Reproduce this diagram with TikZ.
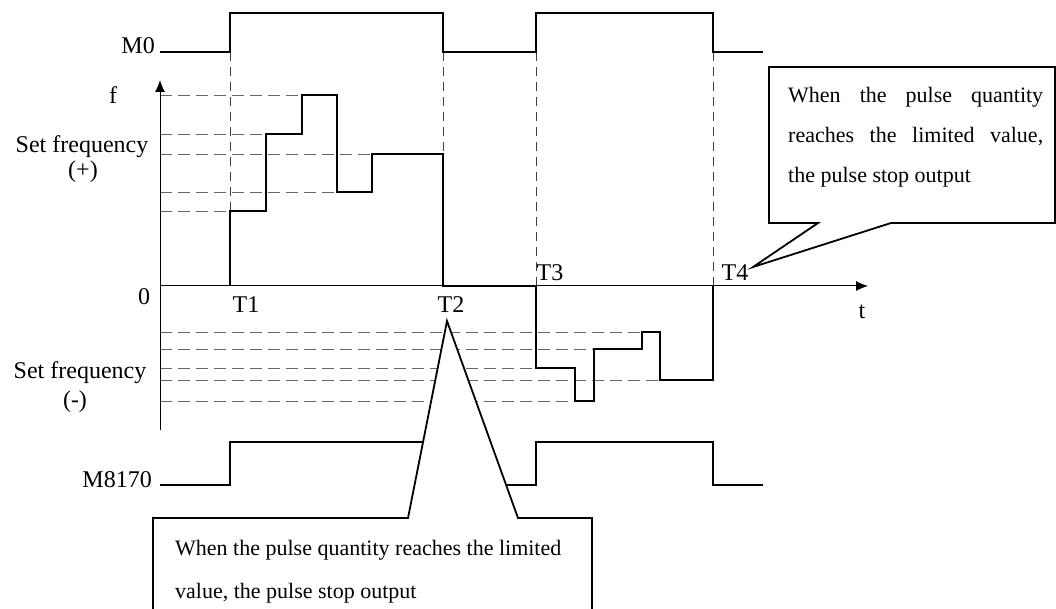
\documentclass[tikz,border=0pt]{standalone}
\usepackage{fontspec}
\setmainfont{Liberation Serif}
\usetikzlibrary{arrows.meta}
\tikzset{
  lab/.style={font=\fontsize{24}{28}\selectfont, inner sep=0pt},
  ctext/.style={font=\fontsize{22}{26}\selectfont, inner sep=0pt, anchor=base west},
  wave/.style={line width=1.8pt, line join=miter},
  axisline/.style={line width=1pt},
  hdash/.style={line width=0.8pt, draw=black!60, dash pattern=on 12pt off 6pt},
  vdash/.style={line width=0.7pt, draw=black!75, dash pattern=on 9pt off 6pt},
  callout/.style={line width=1.8pt, line join=miter},
}
\begin{document}
\begin{tikzpicture}[x=1pt,y=-1pt]
\useasboundingbox (0,0) rectangle (1056,609);
\fill[white] (0,0) rectangle (1056,609);

% dashed guide lines
\draw[hdash] (160,95)--(302,95);
\draw[hdash] (160,134)--(266,134);
\draw[hdash] (160,154)--(372,154);
\draw[hdash] (160,192)--(337,192);
\draw[hdash] (160,211)--(230,211);
\draw[hdash] (160,332)--(642,332);
\draw[hdash] (160,349)--(594,349);
\draw[hdash] (160,368)--(536,368);
\draw[hdash] (160,380)--(660,380);
\draw[hdash] (160,401)--(575,401);
\draw[vdash] (230,52)--(230,211);
\draw[vdash] (443,52)--(443,154);
\draw[vdash] (536,52)--(536,286);
\draw[vdash] (713,52)--(713,286);

% axes
\coordinate (o) at (160,286);
\coordinate (ytop) at (160,80);
\coordinate (ybot) at (160,430);
\coordinate (xend) at (868,286);
\draw[axisline,-{Latex[length=12pt,width=10pt]}] (ybot) -- (ytop);
\draw[axisline,-{Latex[length=12pt,width=10pt]}] (o) -- (xend);

% M0
\draw[wave] (160,52) -- (230,52) -- (230,13) -- (443,13) -- (443,52) -- (536,52) -- (536,13) -- (713,13) -- (713,52) -- (763,52);
% frequency
\draw[wave] (230,286) -- (230,211) -- (266,211) -- (266,134) -- (302,134) -- (302,95) -- (337,95) -- (337,192) -- (372,192) -- (372,154) -- (443,154) -- (443,286) -- (536,286) -- (536,368) -- (575,368) -- (575,401) -- (594,401) -- (594,349) -- (642,349) -- (642,332) -- (660,332) -- (660,380) -- (713,380) -- (713,286);
% M8170
\draw[wave] (160,485) -- (230,485) -- (230,442) -- (443,442) -- (443,485) -- (536,485) -- (536,442) -- (713,442) -- (713,485) -- (763,485);

% labels
\node[lab, anchor=base east] (m0) at (155,54) {M0};
\node[lab, anchor=base] (f) at (113,104) {f};
\node[lab, anchor=base] (sfp) at (82,153) {Set frequency};
\node[lab, anchor=base] (plus) at (83,178) {(+)};
\node[lab, anchor=base] (zero) at (144,304) {0};
\node[lab, anchor=base] (t1) at (246,312) {T1};
\node[lab, anchor=base] (t2) at (451,312) {T2};
\node[lab, anchor=base] (t3) at (550,280) {T3};
\node[lab, anchor=base] (t4) at (735,280) {T4};
\node[lab, anchor=base] (t) at (862,318) {t};
\node[lab, anchor=base] (sfm) at (80,378) {Set frequency};
\node[lab, anchor=base] (minus) at (75,407) {(-)};
\node[lab, anchor=base east] (m8170) at (152,487) {M8170};

% top-right callout
\fill[white] (769,67) -- (1055,67) -- (1055,223) -- (891,223) -- (753,267) -- (818,223) -- (769,223) -- cycle;
\draw[callout] (769,67) -- (1055,67) -- (1055,223) -- (891,223) -- (753,267) -- (818,223) -- (769,223) -- cycle;
\node[ctext] (ca1) at (788,103) {\makebox[255pt][s]{When the pulse quantity}};
\node[ctext] (ca2) at (788,143) {\makebox[255pt][s]{reaches the limited value,}};
\node[ctext] (ca3) at (788,183) {the pulse stop output};

% bottom callout
\fill[white] (153,609) -- (153,518) -- (408,518) -- (447,321) -- (518,518) -- (592,518) -- (592,609) -- cycle;
\draw[callout] (153,612) -- (153,518) -- (408,518) -- (447,321) -- (518,518) -- (592,518) -- (592,612);
\node[ctext] (cb1) at (175,555) {When the pulse quantity reaches the limited};
\node[ctext] (cb2) at (175,598) {value, the pulse stop output};
\end{tikzpicture}
\end{document}
